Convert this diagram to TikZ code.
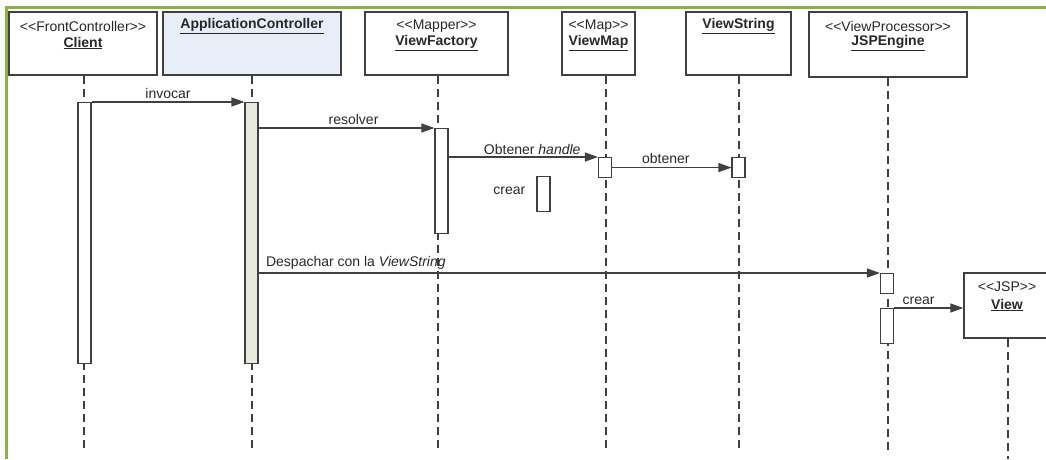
\documentclass[tikz,border=0pt]{standalone}
\usepackage{fontspec}
\setmainfont{Liberation Sans}
\usetikzlibrary{arrows.meta}
\definecolor{frameGreen}{RGB}{141,176,72}
\definecolor{lineGray}{RGB}{64,64,64}
\definecolor{textGray}{RGB}{40,40,40}
\definecolor{ctrlBlue}{RGB}{232,238,248}
\definecolor{ctrlBar}{RGB}{231,233,220}
\tikzset{
  partbox/.style={draw=lineGray, line width=1.2pt, fill=white, rectangle, inner sep=0pt},
  partlabel/.style={text=textGray, font=\fontsize{14}{16}\selectfont, inner sep=0pt},
  lifeline/.style={draw=lineGray, line width=1.3pt, dash pattern=on 8pt off 5pt},
  actbar/.style={draw=lineGray, line width=1.1pt, fill=white, rectangle, inner sep=0pt, minimum width=13pt, anchor=north},
  msg/.style={draw=lineGray, line width=1.1pt, -{Triangle[length=13pt,width=9pt]}},
  msglabel/.style={text=textGray, font=\fontsize{14}{16}\selectfont, inner sep=2pt},
}
\newcommand{\objname}[1]{\underline{\textbf{#1}}}
\newcommand{\stereo}[1]{<{}<#1>{}>}
\begin{document}
\begin{tikzpicture}[x=1pt,y=-1pt]
\useasboundingbox (0,0) rectangle (1046,459);
% page frame
\draw[frameGreen, line width=3pt] (6.5,459) -- (6.5,7) -- (1046,7);

% participants
\node[partbox, minimum width=148pt, minimum height=63pt] (client) at (83,43.5) {};
\node[partbox, fill=ctrlBlue, minimum width=178pt, minimum height=63pt] (app) at (252,43.5) {};
\node[partbox, minimum width=143pt, minimum height=63pt] (vf) at (436.5,43.5) {};
\node[partbox, minimum width=73pt, minimum height=63pt] (vmap) at (598.5,43.5) {};
\node[partbox, minimum width=105pt, minimum height=63pt] (vstr) at (738.5,43.5) {};
\node[partbox, minimum width=158pt, minimum height=65pt] (jsp) at (888,44.5) {};
\node[partbox, minimum width=86pt, minimum height=65pt] (view) at (1007,305.5) {};

\node[partlabel] (clientSt) at (83,26) {\stereo{FrontController}};
\node[partlabel] (clientNm) at (83,43) {\objname{Client}};
\node[partlabel] (appNm) at (252,26) {\objname{ApplicationController}};
\node[partlabel] (vfSt) at (436.5,26) {\stereo{Mapper}};
\node[partlabel] (vfNm) at (436.5,43) {\objname{ViewFactory}};
\node[partlabel] (vmapSt) at (598.5,26) {\stereo{Map}};
\node[partlabel] (vmapNm) at (598.5,43) {\objname{ViewMap}};
\node[partlabel] (vstrNm) at (738.5,26) {\objname{ViewString}};
\node[partlabel] (jspSt) at (888,26) {\stereo{ViewProcessor}};
\node[partlabel] (jspNm) at (888,43) {\objname{JSPEngine}};
\node[partlabel] (viewSt) at (1007,287) {\stereo{JSP}};
\node[partlabel] (viewNm) at (1007,305) {\objname{View}};

% lifeline ends
\coordinate (clientEnd) at (84,452);
\coordinate (appEnd) at (252,452);
\coordinate (vfEnd) at (438,452);
\coordinate (vmapEnd) at (606,452);
\coordinate (vstrEnd) at (739,450);
\coordinate (jspEnd) at (888,450);
\coordinate (viewEnd) at (1008,459);

\draw[lifeline] (client.south -| clientEnd) -- (clientEnd);
\draw[lifeline] (app.south -| appEnd) -- (appEnd);
\draw[lifeline] (vf.south -| vfEnd) -- (vfEnd);
\draw[lifeline] (vmap.south -| vmapEnd) -- (vmapEnd);
\draw[lifeline] (vstr.south -| vstrEnd) -- (vstrEnd);
\draw[lifeline] (jsp.south -| jspEnd) -- (jspEnd);
\draw[lifeline] (view.south -| viewEnd) -- (viewEnd);

% activation bars
\node[actbar, minimum height=261pt] (clientBar) at (84.5,102) {};
\node[actbar, fill=ctrlBar, minimum height=261pt] (appBar) at (251.5,102) {};
\node[actbar, minimum height=105pt] (vfBar) at (441.5,128) {};
\node[actbar, minimum height=20pt] (vmapBar) at (605,157) {};
\node[actbar, minimum height=20pt] (vstrBar) at (738.5,157) {};
\node[actbar, minimum height=35pt] (createBox) at (543.5,176) {};
\node[actbar, minimum height=20pt] (jspBar1) at (887,273) {};
\node[actbar, minimum height=35pt] (jspBar2) at (887,308) {};

% messages
\draw[msg] (clientBar.north east) -- (appBar.north west)
  node[msglabel, midway, above, yshift=1pt] (lblInvocar) {invocar};
\draw[msg] (appBar.east |- vfBar.north) -- (vfBar.north west)
  node[msglabel, pos=0.54, above, yshift=1pt] (lblResolver) {resolver};
\draw[msg] (vfBar.east |- vmapBar.north) -- (vmapBar.north west)
  node[msglabel, pos=0.56, above] (lblHandle) {Obtener \textit{handle}};
\draw[msg] (vmapBar.east) -- (vstrBar.west)
  node[msglabel, pos=0.45, above, yshift=1pt] (lblObtener) {obtener};
\node[msglabel, anchor=east, xshift=-9pt, yshift=3pt] (lblCrear1) at (createBox.west) {crear};
\draw[msg] (appBar.east |- jspBar1.north) -- (jspBar1.north west)
  node[msglabel, pos=0, anchor=south west, xshift=5pt, yshift=1pt] (lblDespachar) {Despachar con la \textit{ViewString}};
\draw[msg] (jspBar2.north east) -- (view.west |- jspBar2.north)
  node[msglabel, pos=0, anchor=south west, xshift=6pt, yshift=1pt] (lblCrear2) {crear};
\end{tikzpicture}
\end{document}
